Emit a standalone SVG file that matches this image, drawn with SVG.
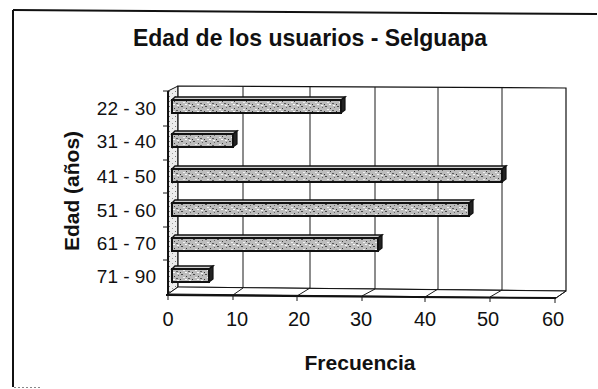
<svg xmlns="http://www.w3.org/2000/svg" width="598" height="389" viewBox="0 0 598 389">
<style>
  .t { font-family: "Liberation Sans", Arial, sans-serif; fill: #111; }
  .b { font-weight: bold; }
  .cat { font-size: 19px; text-anchor: end; }
  .num { font-size: 20px; text-anchor: middle; }
  .ln { stroke: #1a1a1a; stroke-width: 1; fill: none; }
  .ax { stroke: #111; stroke-width: 2; fill: none; }
  .front { fill: url(#stip); stroke: #111; stroke-width: 2; }
  .top { fill: #d0d0d0; stroke: #111; stroke-width: 1.4; }
  .side { fill: #222; stroke: #111; stroke-width: 1.2; }
</style>
<defs>
  <pattern id="stip" width="12" height="7" patternUnits="userSpaceOnUse">
    <rect width="12" height="7" fill="#bcbcbc"/>
    <rect x="1" y="1" width="2" height="1" fill="#4a4a4a"/>
    <rect x="6" y="3" width="1" height="1" fill="#3a3a3a"/>
    <rect x="9" y="0" width="2" height="1" fill="#f4f4f4"/>
    <rect x="3" y="4" width="2" height="1" fill="#eee"/>
    <rect x="8" y="5" width="2" height="1" fill="#5a5a5a"/>
    <rect x="0" y="6" width="1" height="1" fill="#333"/>
    <rect x="10" y="2" width="1" height="1" fill="#666"/>
    <rect x="5" y="6" width="2" height="1" fill="#fafafa"/>
  </pattern>
  <pattern id="wall" width="6" height="5" patternUnits="userSpaceOnUse">
    <rect width="6" height="5" fill="#ececec"/>
    <rect x="1" y="1" width="1" height="1" fill="#777"/>
    <rect x="4" y="3" width="1" height="1" fill="#999"/>
  </pattern>
</defs>

<rect width="598" height="389" fill="#fff"/>

<g id="frame">
  <line class="ax" x1="13" y1="10" x2="13" y2="387" stroke-width="1.5"/>
  <line class="ax" x1="13" y1="10" x2="597" y2="14" stroke-width="1.5"/>
  <line x1="14" y1="387.5" x2="42" y2="387.5" stroke="#888" stroke-width="1" stroke-dasharray="2 2"/>
</g>

<g id="title">
  <text class="t b" x="310" y="46" font-size="23" text-anchor="middle">Edad de los usuarios - Selguapa</text>
</g>

<g id="plot-area">
  <polygon points="168,91 178,86 178,287 168,294" fill="url(#wall)" stroke="#111" stroke-width="1"/>
  <polygon points="178,86 566,88 566,291 178,287" fill="#fff" stroke="#111" stroke-width="1.2"/>
  <polygon points="168,294 178,287 566,291 556,298" fill="#fff" stroke="#111" stroke-width="1"/>
</g>

<g id="gridlines">
  <line class="ln" x1="243" y1="86" x2="243" y2="288"/>
  <line class="ln" x1="310" y1="87" x2="310" y2="288"/>
  <line class="ln" x1="375" y1="87" x2="375" y2="289"/>
  <line class="ln" x1="438" y1="87" x2="438" y2="289"/>
  <line class="ln" x1="502" y1="88" x2="502" y2="290"/>
  <line class="ln" x1="243" y1="288" x2="233" y2="295"/>
  <line class="ln" x1="310" y1="288" x2="297" y2="296"/>
  <line class="ln" x1="375" y1="289" x2="362" y2="296"/>
  <line class="ln" x1="438" y1="289" x2="425" y2="297"/>
  <line class="ln" x1="502" y1="290" x2="490" y2="297"/>
</g>

<g id="bars">
  <g id="bar-22-30">
    <polygon class="top" points="172,100 175,97 345,97 341,100"/>
    <polygon class="side" points="341,100 345,97 345,110 341,113"/>
    <rect class="front" x="172" y="100" width="169" height="13"/>
  </g>
  <g id="bar-31-40">
    <polygon class="top" points="172,134 175,131 237,131 233,134"/>
    <polygon class="side" points="233,134 237,131 237,144 233,147"/>
    <rect class="front" x="172" y="134" width="61" height="13"/>
  </g>
  <g id="bar-41-50">
    <polygon class="top" points="172,169 175,166 506,166 502,169"/>
    <polygon class="side" points="502,169 506,166 506,179 502,182"/>
    <rect class="front" x="172" y="169" width="330" height="13"/>
  </g>
  <g id="bar-51-60">
    <polygon class="top" points="172,203 175,200 473,200 469,203"/>
    <polygon class="side" points="469,203 473,200 473,213 469,216"/>
    <rect class="front" x="172" y="203" width="297" height="13"/>
  </g>
  <g id="bar-61-70">
    <polygon class="top" points="172,238 175,235 382,235 378,238"/>
    <polygon class="side" points="378,238 382,235 382,248 378,251"/>
    <rect class="front" x="172" y="238" width="206" height="13"/>
  </g>
  <g id="bar-71-90">
    <polygon class="top" points="172,269 175,266 213,266 209,269"/>
    <polygon class="side" points="209,269 213,266 213,279 209,282"/>
    <rect class="front" x="172" y="269" width="37" height="13"/>
  </g>
</g>

<g id="axes">
  <line class="ax" x1="168" y1="91" x2="168" y2="295"/>
  <line class="ax" x1="166" y1="295" x2="556" y2="298"/>
  <line class="ln" x1="556" y1="298" x2="566" y2="291"/>
  <line class="ln" x1="163" y1="91" x2="168" y2="91"/>
  <line class="ln" x1="163" y1="126" x2="168" y2="126"/>
  <line class="ln" x1="163" y1="160" x2="168" y2="160"/>
  <line class="ln" x1="163" y1="193" x2="168" y2="193"/>
  <line class="ln" x1="163" y1="227" x2="168" y2="227"/>
  <line class="ln" x1="163" y1="260" x2="168" y2="260"/>
  <line class="ln" x1="168" y1="295" x2="168" y2="300"/>
  <line class="ln" x1="233" y1="295" x2="233" y2="300"/>
  <line class="ln" x1="297" y1="296" x2="297" y2="301"/>
  <line class="ln" x1="362" y1="296" x2="362" y2="301"/>
  <line class="ln" x1="425" y1="297" x2="425" y2="302"/>
  <line class="ln" x1="490" y1="297" x2="490" y2="302"/>
  <line class="ln" x1="555" y1="298" x2="555" y2="303"/>
</g>

<g id="category-labels">
  <text class="t cat" x="156" y="115">22 - 30</text>
  <text class="t cat" x="156" y="148">31 - 40</text>
  <text class="t cat" x="156" y="183">41 - 50</text>
  <text class="t cat" x="156" y="217">51 - 60</text>
  <text class="t cat" x="156" y="250">61 - 70</text>
  <text class="t cat" x="156" y="283">71 - 90</text>
</g>

<g id="value-labels">
  <text class="t num" x="168" y="326">0</text>
  <text class="t num" x="237" y="326">10</text>
  <text class="t num" x="299" y="326">20</text>
  <text class="t num" x="361" y="326">30</text>
  <text class="t num" x="425" y="326">40</text>
  <text class="t num" x="488" y="326">50</text>
  <text class="t num" x="553" y="326">60</text>
</g>

<g id="axis-titles">
  <text class="t b" x="360" y="370" font-size="21" text-anchor="middle">Frecuencia</text>
  <text class="t b" transform="translate(79,191) rotate(-90)" x="0" y="0" font-size="21" text-anchor="middle">Edad (años)</text>
</g>
</svg>
